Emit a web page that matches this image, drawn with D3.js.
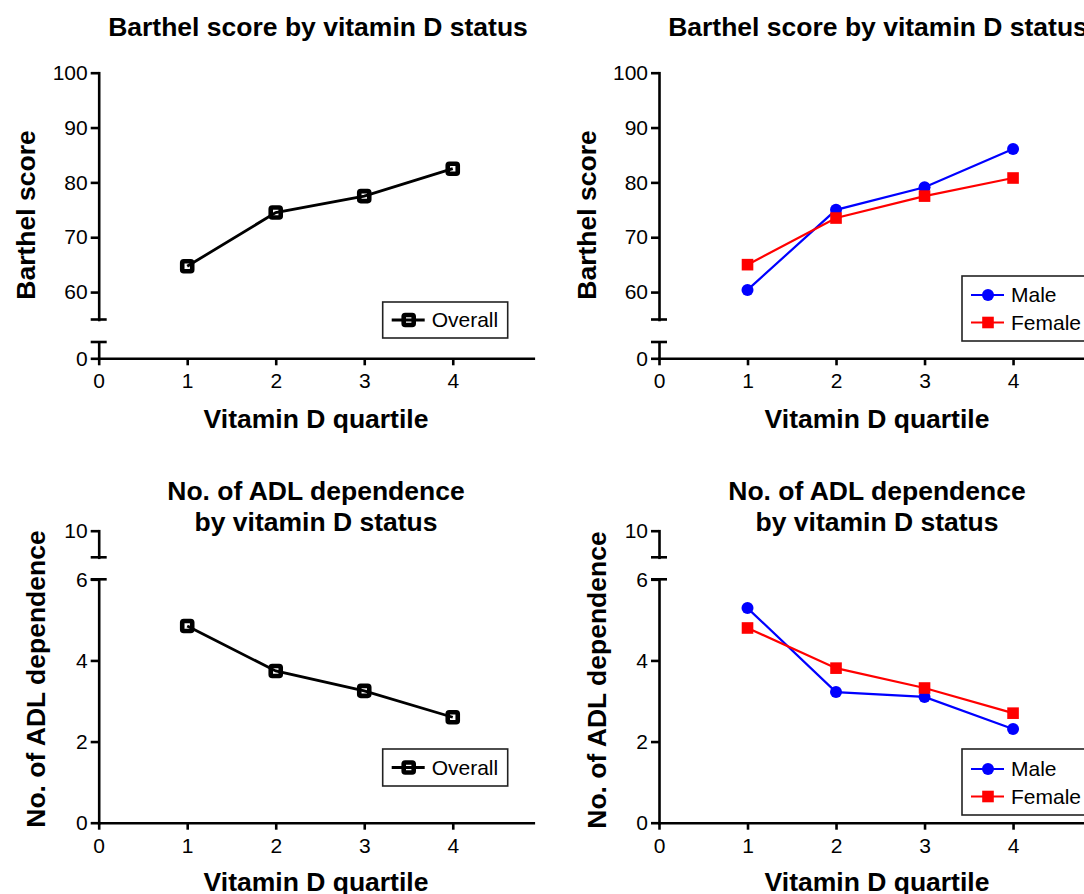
<!DOCTYPE html>
<html>
<head>
<meta charset="utf-8">
<script src="https://cdn.jsdelivr.net/npm/d3@7"></script>
<style>
  html, body { margin: 0; padding: 0; background: #ffffff; }
  svg { display: block; font-family: "Liberation Sans", Arial, sans-serif; }
</style>
</head>
<body>
<svg id="chart" width="1084" height="894"></svg>
<script>
// ---------------- data ----------------
const quartiles = [1, 2, 3, 4];
const xTickValues = [0, 1, 2, 3, 4];

const barthelOverall = [64.7, 74.5, 77.5, 82.5];
const barthelMale    = [60.4, 75.0, 79.1, 86.1];
const barthelFemale  = [65.0, 73.5, 77.5, 80.8];

const adlOverall = [4.85, 3.74, 3.25, 2.60];
const adlMale    = [5.29, 3.22, 3.10, 2.31];
const adlFemale  = [4.80, 3.81, 3.32, 2.70];

const barthelTicksUpper = [60, 70, 80, 90, 100];
const barthelTicksLower = [0];
const adlTicksUpper = [10];
const adlTicksLower = [0, 2, 4, 6];

const titleBarthel = ["Barthel score by vitamin D status"];
const titleAdl = ["No. of ADL dependence", "by vitamin D status"];
const yLabelBarthel = "Barthel score";
const yLabelAdl = "No. of ADL dependence";
const xLabelText = "Vitamin D quartile";
const legendOverall = ["Overall"];
const legendSex = ["Male", "Female"];

// ---------------- styling / layout ----------------
const BLUE = "#0000ff", RED = "#ff0000", BLACK = "#000000";
const AXIS_W = 2.6;
const TICK_FONT = 21, LABEL_FONT = 26.5;
const svg = d3.select("#chart");

const barthelSeg = {
  upper: { domain: [55, 100], range: [319.5, 72.7], ticks: barthelTicksUpper },
  lower: { domain: [0, 2.5], range: [358.3, 342], ticks: barthelTicksLower },
  breakAt: 30
};
const adlSeg = {
  upper: { domain: [9.344, 10], range: [557.3, 530.7], ticks: adlTicksUpper },
  lower: { domain: [0, 6], range: [822.7, 579.3], ticks: adlTicksLower },
  breakAt: 8
};

function drawPanel(cfg) {
  const g = svg.append("g");
  const seg = cfg.seg;
  const x = d3.scaleLinear().domain([0, 4.91]).range([cfg.ox, cfg.ox + 434.6]);
  const yUp = d3.scaleLinear().domain(seg.upper.domain).range(seg.upper.range);
  const yLo = d3.scaleLinear().domain(seg.lower.domain).range(seg.lower.range);
  const yv = v => (v >= seg.breakAt ? yUp(v) : yLo(v));
  const axisY = seg.lower.range[0];

  // title
  const t = g.append("text").attr("text-anchor", "middle")
    .attr("font-size", LABEL_FONT).attr("font-weight", "bold");
  cfg.title.forEach((line, i) => {
    t.append("tspan").attr("x", cfg.titleX).attr("y", cfg.titleY + i * 31).text(line);
  });

  // x axis
  const xa = g.append("g").attr("transform", `translate(0,${axisY})`)
    .call(d3.axisBottom(x).tickValues(xTickValues).tickFormat(d3.format("d"))
      .tickSize(7).tickPadding(8).tickSizeOuter(0));
  // y axes (two segments)
  const ya1 = g.append("g").attr("transform", `translate(${cfg.ox},0)`)
    .call(d3.axisLeft(yUp).tickValues(seg.upper.ticks).tickFormat(d3.format("d"))
      .tickSize(8).tickPadding(3).tickSizeOuter(0));
  const ya2 = g.append("g").attr("transform", `translate(${cfg.ox},0)`)
    .call(d3.axisLeft(yLo).tickValues(seg.lower.ticks).tickFormat(d3.format("d"))
      .tickSize(8).tickPadding(3).tickSizeOuter(0));
  [xa, ya1, ya2].forEach(a => {
    a.selectAll("path.domain").attr("stroke", BLACK).attr("stroke-width", AXIS_W).attr("stroke-linecap", "square");
    a.selectAll(".tick line").attr("stroke", BLACK).attr("stroke-width", AXIS_W);
    a.selectAll(".tick text").attr("font-size", TICK_FONT).attr("fill", BLACK)
      .attr("font-family", "Liberation Sans, Arial, sans-serif");
  });
  // break caps
  const capYs = [seg.upper.range[0], seg.lower.range[1]];
  capYs.forEach(cy => {
    g.append("line").attr("x1", cfg.ox - 8).attr("x2", cfg.ox + 8)
      .attr("y1", cy).attr("y2", cy).attr("stroke", BLACK).attr("stroke-width", AXIS_W);
  });

  // axis labels
  g.append("text").attr("text-anchor", "middle").attr("font-size", LABEL_FONT).attr("font-weight", "bold")
    .attr("transform", `translate(${cfg.ylabX},${cfg.ylabY}) rotate(-90)`).text(cfg.ylabel);
  g.append("text").attr("text-anchor", "middle").attr("font-size", LABEL_FONT).attr("font-weight", "bold")
    .attr("x", cfg.xlabX).attr("y", cfg.xlabY).text(xLabelText);

  // series
  const line = d3.line().x(d => x(d.q)).y(d => yv(d.v));
  cfg.series.forEach(s => {
    const pts = quartiles.map((q, i) => ({ q, v: s.values[i] }));
    g.append("path").datum(pts).attr("d", line).attr("fill", "none")
      .attr("stroke", s.color).attr("stroke-width", s.type === "hollow" ? 2.8 : 2.2);
    drawMarkers(g, pts.map(p => [x(p.q), yv(p.v)]), s);
  });

  // legend
  const L = cfg.legend;
  g.append("rect").attr("x", L.x).attr("y", L.y).attr("width", L.w).attr("height", L.h)
    .attr("fill", "#ffffff").attr("stroke", "#222").attr("stroke-width", 1.6);
  cfg.series.forEach((s, i) => {
    const ry = L.y + L.first + i * 27.5;
    g.append("line").attr("x1", L.x + 9).attr("x2", L.x + 42).attr("y1", ry).attr("y2", ry)
      .attr("stroke", s.color).attr("stroke-width", s.type === "hollow" ? 2.8 : 2.2);
    drawMarkers(g, [[L.x + 26, ry]], s);
    g.append("text").attr("x", L.x + 49).attr("y", ry).attr("dy", "0.35em")
      .attr("font-size", TICK_FONT).text(s.name);
  });
}

function drawMarkers(g, coords, s) {
  coords.forEach(([cx, cy]) => {
    if (s.type === "hollow") {
      g.append("rect").attr("x", cx - 5).attr("y", cy - 5).attr("width", 10).attr("height", 10)
        .attr("rx", 1.5).attr("fill", "none").attr("stroke", s.color).attr("stroke-width", 4.6);
    } else if (s.type === "circle") {
      g.append("circle").attr("cx", cx).attr("cy", cy).attr("r", 6).attr("fill", s.color);
    } else {
      g.append("rect").attr("x", cx - 5.8).attr("y", cy - 5.8).attr("width", 11.6).attr("height", 11.6)
        .attr("fill", s.color);
    }
  });
}

drawPanel({
  ox: 98.7, seg: barthelSeg, title: titleBarthel, titleX: 318, titleY: 36,
  ylabel: yLabelBarthel, ylabX: 35, ylabY: 215, xlabX: 316, xlabY: 428,
  series: [{ name: legendOverall[0], values: barthelOverall, color: BLACK, type: "hollow" }],
  legend: { x: 382.7, y: 302, w: 125, h: 36, first: 18 }
});
drawPanel({
  ox: 659, seg: barthelSeg, title: titleBarthel, titleX: 878, titleY: 36,
  ylabel: yLabelBarthel, ylabX: 596, ylabY: 215, xlabX: 877, xlabY: 428,
  series: [
    { name: legendSex[0], values: barthelMale, color: BLUE, type: "circle" },
    { name: legendSex[1], values: barthelFemale, color: RED, type: "square" }
  ],
  legend: { x: 962, y: 276, w: 135, h: 65, first: 19 }
});
drawPanel({
  ox: 98.7, seg: adlSeg, title: titleAdl, titleX: 316, titleY: 500,
  ylabel: yLabelAdl, ylabX: 45, ylabY: 679, xlabX: 316, xlabY: 891,
  series: [{ name: legendOverall[0], values: adlOverall, color: BLACK, type: "hollow" }],
  legend: { x: 382.7, y: 749, w: 125, h: 37, first: 18.5 }
});
drawPanel({
  ox: 659, seg: adlSeg, title: titleAdl, titleX: 877, titleY: 500,
  ylabel: yLabelAdl, ylabX: 606, ylabY: 680, xlabX: 877, xlabY: 891,
  series: [
    { name: legendSex[0], values: adlMale, color: BLUE, type: "circle" },
    { name: legendSex[1], values: adlFemale, color: RED, type: "square" }
  ],
  legend: { x: 962, y: 749, w: 135, h: 66, first: 20 }
});
</script>
</body>
</html>
